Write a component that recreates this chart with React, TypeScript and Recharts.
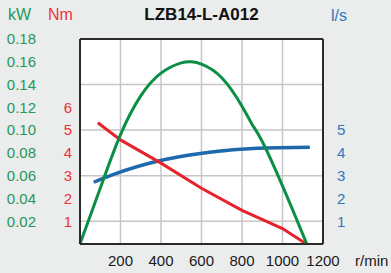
import React from 'react';
import {
  ComposedChart,
  Line,
  XAxis,
  YAxis,
  CartesianGrid,
} from 'recharts';

// ---- data ----
const rpmTicks = [200, 400, 600, 800, 1000, 1200];
const kwTicks = [0.02, 0.04, 0.06, 0.08, 0.1, 0.12, 0.14, 0.16, 0.18];
const nmTicks = [1, 2, 3, 4, 5, 6];
const lsTicks = [1, 2, 3, 4, 5];

const powerRpm = [0, 100, 200, 300, 400, 500, 550, 600, 700, 800, 850, 900, 1000, 1120];
const powerKw = [0, 0.049, 0.096, 0.13, 0.15, 0.159, 0.16, 0.158, 0.146, 0.121, 0.105, 0.09, 0.051, 0];

const torqueRpm = [88, 200, 400, 600, 800, 1000, 1118];
const torqueNm = [5.32, 4.57, 3.55, 2.45, 1.48, 0.68, 0];

const flowRpm = [68, 163, 381, 594, 756, 921, 1135];
const flowLs = [2.71, 3.05, 3.63, 3.97, 4.14, 4.22, 4.25];

const powerData = powerRpm.map((r, i) => ({ rpm: r, kw: powerKw[i] }));
const torqueData = torqueRpm.map((r, i) => ({ rpm: r, nm: torqueNm[i] }));
const flowData = flowRpm.map((r, i) => ({ rpm: r, ls: flowLs[i] }));

const GREEN_TXT = '#23985a';
const RED_TXT = '#e8343b';
const BLUE_TXT = '#2f78bb';
const GREEN = '#0b8f45';
const RED = '#e6232a';
const BLUE = '#1e68ad';
const BORDER = '#2a2a2a';
const FONT = '"Liberation Sans", Arial, sans-serif';

export default function App() {
  return (
    <div
      style={{
        position: 'absolute',
        left: 0,
        top: 0,
        width: 391,
        height: 273,
        background: '#ebecec',
        fontFamily: FONT,
      }}
    >
      <ComposedChart
        width={391}
        height={273}
        margin={{ top: 38, right: 0, bottom: 0, left: 0 }}
      >
        <CartesianGrid
          xAxisId="x"
          yAxisId="b_kw"
          fill="#ffffff"
          stroke="#c6c6c6"
          strokeWidth={1.5}
        />
        <XAxis
          xAxisId="x"
          dataKey="rpm"
          type="number"
          domain={[0, 1200]}
          ticks={rpmTicks}
          height={29}
          axisLine={{ stroke: BORDER, strokeWidth: 2 }}
          tickLine={false}
          tickSize={0}
          tickMargin={11}
          tick={{ fill: '#1a1a1a', fontSize: 15 }}
        />
        <XAxis
          xAxisId="top"
          orientation="top"
          type="number"
          domain={[0, 1200]}
          height={1}
          axisLine={{ stroke: BORDER, strokeWidth: 2 }}
          tickLine={false}
          tick={false}
        />
        <YAxis
          yAxisId="a_nm"
          orientation="left"
          type="number"
          domain={[0, 9]}
          ticks={nmTicks}
          width={36}
          axisLine={{ stroke: BORDER, strokeWidth: 2 }}
          tickLine={false}
          tickSize={0}
          tickMargin={8}
          tick={{ fill: RED_TXT, fontSize: 15 }}
        />
        <YAxis
          yAxisId="b_kw"
          orientation="left"
          type="number"
          domain={[0, 0.18]}
          ticks={kwTicks}
          width={44}
          axisLine={false}
          tickLine={false}
          tickSize={0}
          tickMargin={8}
          tickFormatter={(v: number) => v.toFixed(2)}
          tick={{ fill: GREEN_TXT, fontSize: 15 }}
        />
        <YAxis
          yAxisId="ls"
          orientation="right"
          type="number"
          domain={[0, 9]}
          ticks={lsTicks}
          width={68}
          axisLine={{ stroke: BORDER, strokeWidth: 2 }}
          tickLine={false}
          tickSize={0}
          tickMargin={14}
          tick={{ fill: BLUE_TXT, fontSize: 15 }}
        />
        <Line
          xAxisId="x"
          yAxisId="ls"
          data={flowData}
          dataKey="ls"
          type="natural"
          stroke={BLUE}
          strokeWidth={3.5}
          dot={false}
          activeDot={false}
          isAnimationActive={false}
        />
        <Line
          xAxisId="x"
          yAxisId="a_nm"
          data={torqueData}
          dataKey="nm"
          type="linear"
          stroke={RED}
          strokeWidth={3}
          dot={false}
          activeDot={false}
          isAnimationActive={false}
        />
        <Line
          xAxisId="x"
          yAxisId="b_kw"
          data={powerData}
          dataKey="kw"
          type="natural"
          stroke={GREEN}
          strokeWidth={3}
          dot={false}
          activeDot={false}
          isAnimationActive={false}
        />
      </ComposedChart>
      <svg
        width={391}
        height={273}
        style={{ position: 'absolute', left: 0, top: 0, pointerEvents: 'none', fontFamily: FONT }}
      >
        <text x={8} y={19.5} fontSize={16} fill={GREEN_TXT}>kW</text>
        <text x={48} y={19.5} fontSize={16} fill={RED_TXT}>Nm</text>
        <text x={201.5} y={19.5} fontSize={17} fontWeight="bold" fill="#111" textAnchor="middle">
          LZB14-L-A012
        </text>
        <text x={331} y={20.5} fontSize={16} fill={BLUE_TXT}>l/s</text>
        <text x={355} y={266} fontSize={15} fill="#1a1a1a">r/min</text>
      </svg>
    </div>
  );
}
